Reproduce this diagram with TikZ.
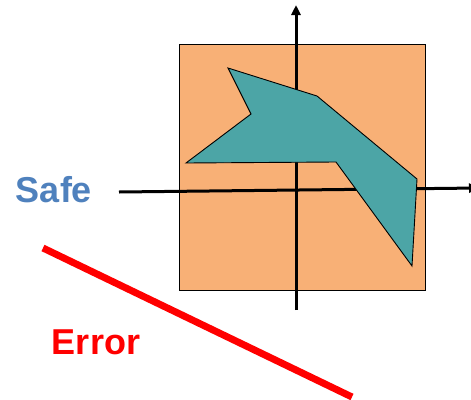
\documentclass[tikz,border=0pt]{standalone}
\usepackage{fontspec}
\setmainfont{Liberation Sans}
\usetikzlibrary{arrows.meta}
\definecolor{boxorange}{RGB}{248,176,118}
\definecolor{shapeteal}{RGB}{76,165,166}
\definecolor{safeblue}{RGB}{79,129,189}
\tikzset{
  axisline/.style={line width=3pt,-{Triangle[length=10pt,width=9pt]}},
  lbl/.style={font=\fontsize{36}{40}\selectfont\bfseries, inner sep=0pt}
}
\begin{document}
\begin{tikzpicture}[x=1pt,y=-1pt]
\useasboundingbox (0,0) rectangle (471,399);
\draw[fill=boxorange, line width=0.9pt] (179,44) rectangle (425,290);
\coordinate (ytop) at (296,5);
\coordinate (ybot) at (296,310);
\coordinate (xl) at (119,192);
\coordinate (xr) at (479,188);
\draw[line width=3pt] (ybot) -- (296,20);
\draw[axisline] (296,30) -- (ytop);
\draw[axisline] (xl) -- (xr);
\draw[fill=shapeteal, line width=0.9pt, line join=miter]
  (228,68) -- (317,96) -- (417,179) -- (412,266) -- (336,162) -- (186,163) -- (251,114) -- cycle;
\coordinate (ea) at (43,248);
\coordinate (eb) at (352,397);
\draw[red, line width=7pt] (ea) -- (eb);
\node[lbl, text=safeblue] (safe) at (54,190) {Safe};
\node[lbl, text=red] (error) at (96,342) {Error};
\end{tikzpicture}
\end{document}
